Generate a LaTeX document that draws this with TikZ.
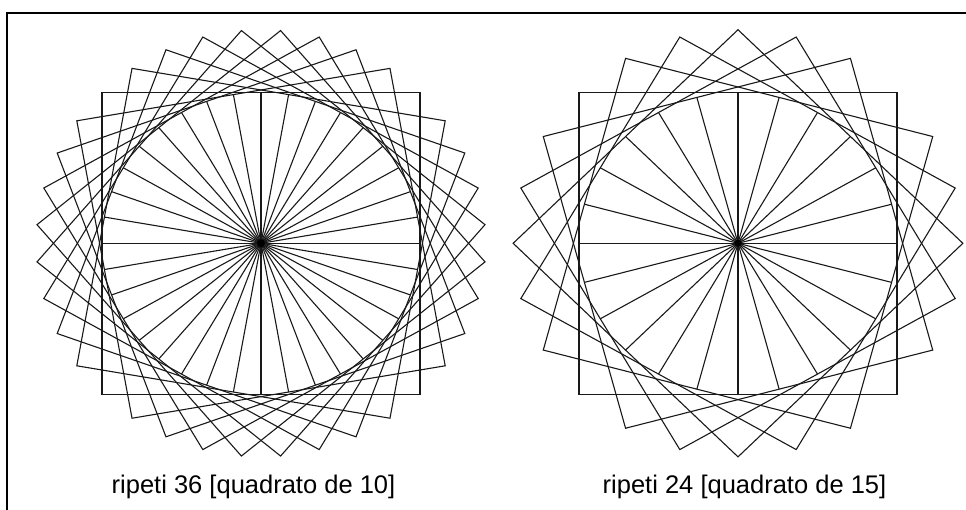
\documentclass[tikz,border=0pt]{standalone}
\usepackage{fontspec}
\setmainfont{Liberation Sans}
\begin{document}
\begin{tikzpicture}[x=1pt, y=-1pt,
    lijn/.style={line width=1.1pt, black!90},
    kader/.style={line width=2.4pt, black},
    bijschrift/.style={font=\fontsize{25.5}{30}\selectfont, inner sep=0pt, anchor=base}]
    \useasboundingbox (0,0) rectangle (966,510);
    \coordinate (L) at (261,243.3);
    \coordinate (R) at (738,243.3);

    % Kader
    \draw[kader] (7,510) -- (7,13.3) -- (966,13.3);

    % ripeti 36 [quadrato de 10]
    \begin{scope}[shift={(L)}, xscale=1.053]
        \foreach \a in {0,10,...,80}
            \draw[lijn, rotate=\a] (-151,-151) rectangle (151,151);
        \foreach \a in {0,10,...,350}
            \draw[lijn] (0,0) -- (\a:151);
    \end{scope}
    \fill (L) circle (4);

    % ripeti 24 [quadrato de 15]
    \begin{scope}[shift={(R)}, xscale=1.053]
        \foreach \a in {0,15,...,75}
            \draw[lijn, rotate=\a] (-151,-151) rectangle (151,151);
        \foreach \a in {0,15,...,345}
            \draw[lijn] (0,0) -- (\a:151);
    \end{scope}
    \fill (R) circle (3.5);

    % Bijschriften
    \node[bijschrift] (links) at (253.5,493) {ripeti 36 [quadrato de 10]};
    \node[bijschrift] (rechts) at (744.5,493) {ripeti 24 [quadrato de 15]};
\end{tikzpicture}
\end{document}
